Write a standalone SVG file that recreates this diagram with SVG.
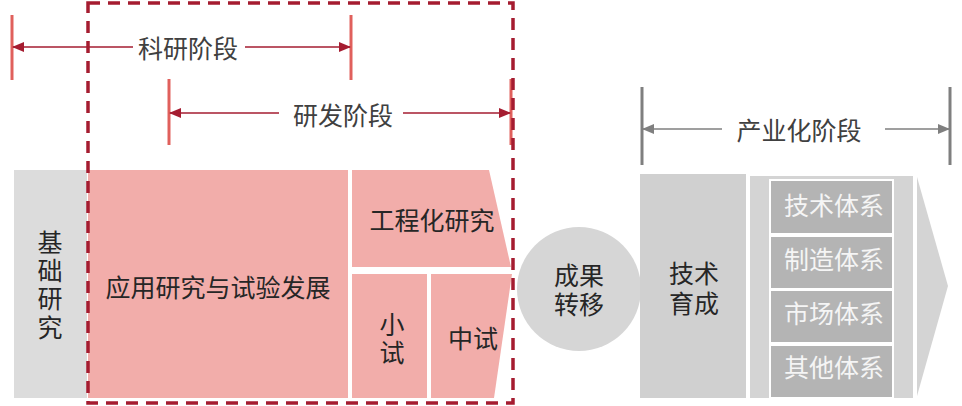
<svg xmlns="http://www.w3.org/2000/svg" width="962" height="406" viewBox="0 0 962 406">
<defs>
<style>
.t{font-family:"Liberation Sans","Noto Sans CJK SC",sans-serif;font-size:25px;text-anchor:middle;dominant-baseline:central}
.dk{fill:#262626}
.lb{fill:#404040}
.wt{fill:#F5F5F5}
.bar{stroke:#E0605C;stroke-width:3}
.gbar{stroke:#7F7F7F;stroke-width:3}
.rl{stroke:#A51C30;stroke-width:1.5;fill:none}
.gl{stroke:#7F7F7F;stroke-width:1.5;fill:none}
.pink{fill:#F2ADAA}
.sub{fill:#B4B4B4;stroke:#FFFFFF;stroke-width:2}
</style>
<marker id="ar" markerWidth="12" markerHeight="10" refX="11" refY="5" orient="auto" markerUnits="userSpaceOnUse"><path d="M0,0 L12,5 L0,10 Z" fill="#A51C30"/></marker>
<marker id="ag" markerWidth="12" markerHeight="10" refX="11" refY="5" orient="auto" markerUnits="userSpaceOnUse"><path d="M0,0 L12,5 L0,10 Z" fill="#7F7F7F"/></marker>
</defs>
<rect width="962" height="406" fill="#FFFFFF"/>

<g id="basic">
<rect x="14" y="170" width="73" height="228" fill="#DCDCDC"/>
<text class="t dk" x="50" y="243">基</text>
<text class="t dk" x="50" y="271">础</text>
<text class="t dk" x="50" y="299">研</text>
<text class="t dk" x="50" y="328">究</text>
</g>

<g id="applied">
<rect x="88" y="170" width="260" height="228" class="pink"/>
<text class="t dk" x="218" y="288">应用研究与试验发展</text>
</g>

<g id="engineering">
<polygon class="pink" points="352,170 489,170 511,267 352,267"/>
<text class="t dk" x="432" y="221">工程化研究</text>
</g>
<g id="small-test">
<rect x="352" y="274" width="75" height="124" class="pink"/>
<text class="t dk" x="392" y="325">小</text>
<text class="t dk" x="392" y="353">试</text>
</g>
<g id="pilot-test">
<polygon class="pink" points="431,274 512,274 494,398 431,398"/>
<text class="t dk" x="473" y="339">中试</text>
</g>

<g id="transfer">
<circle cx="579" cy="289" r="62" fill="#D6D6D6"/>
<text class="t dk" x="579" y="276">成果</text>
<text class="t dk" x="579" y="305">转移</text>
</g>

<g id="incubation">
<rect x="640" y="174" width="106" height="224" fill="#D0D0D0"/>
<text class="t dk" x="694" y="274">技术</text>
<text class="t dk" x="694" y="304">育成</text>
</g>

<g id="systems">
<rect x="750" y="176" width="163" height="222" fill="#D4D4D4"/>
<polygon points="917,177 948,286 917,396" fill="#D4D4D4"/>
<rect x="770" y="180" width="123" height="54" class="sub"/>
<text class="t wt" x="834" y="206">技术体系</text>
<rect x="770" y="236" width="123" height="53" class="sub"/>
<text class="t wt" x="834" y="260">制造体系</text>
<rect x="770" y="290" width="123" height="53" class="sub"/>
<text class="t wt" x="834" y="314">市场体系</text>
<rect x="770" y="345" width="123" height="53" class="sub"/>
<text class="t wt" x="834" y="368">其他体系</text>
</g>

<g id="connectors">
<line class="bar" x1="12" y1="15" x2="12" y2="80"/>
<line class="bar" x1="351" y1="15" x2="351" y2="80"/>
<line class="rl" x1="133" y1="47" x2="13" y2="47" marker-end="url(#ar)"/>
<line class="rl" x1="245" y1="47" x2="350" y2="47" marker-end="url(#ar)"/>
<line class="bar" x1="169" y1="79" x2="169" y2="145"/>
<line class="bar" x1="511" y1="79" x2="511" y2="145"/>
<line class="rl" x1="279" y1="113" x2="170" y2="113" marker-end="url(#ar)"/>
<line class="rl" x1="403" y1="113" x2="510" y2="113" marker-end="url(#ar)"/>
<line class="gbar" x1="642" y1="87" x2="642" y2="165"/>
<line class="gbar" x1="950" y1="87" x2="950" y2="165"/>
<line class="gl" x1="722" y1="129" x2="643" y2="129" marker-end="url(#ag)"/>
<line class="gl" x1="885" y1="129" x2="949" y2="129" marker-end="url(#ag)"/>
</g>
<text class="t lb" x="188" y="49">科研阶段</text>
<text class="t lb" x="343" y="116">研发阶段</text>
<text class="t lb" x="799" y="131">产业化阶段</text>

<rect x="88" y="3" width="425" height="400" fill="none" stroke="#A51C30" stroke-width="3.5" stroke-dasharray="12 8"/>
</svg>
